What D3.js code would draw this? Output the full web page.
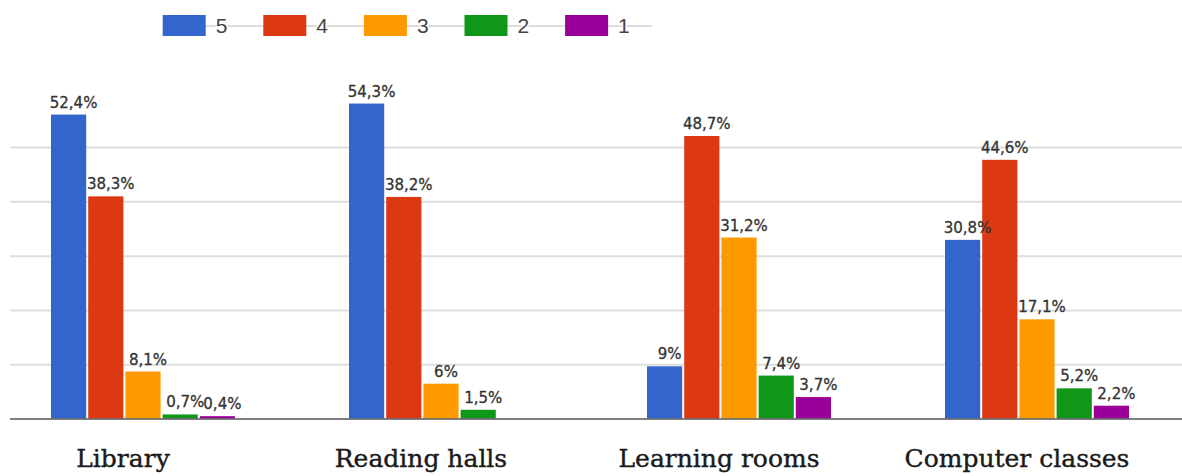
<!DOCTYPE html>
<html>
<head>
<meta charset="utf-8">
<script src="https://cdn.jsdelivr.net/npm/d3@7"></script>
<style>
  html, body { margin: 0; padding: 0; background: #fff; }
  svg { display: block; }
</style>
</head>
<body>
<svg id="chart" width="1182" height="476"></svg>
<script>
// ---- data ----
const categories = ["Library", "Reading halls", "Learning rooms", "Computer classes"];
const seriesNames = ["5", "4", "3", "2", "1"];
const series5 = [52.4, 54.3, 9, 30.8];
const series4 = [38.3, 38.2, 48.7, 44.6];
const series3 = [8.1, 6, 31.2, 17.1];
const series2 = [0.7, 1.5, 7.4, 5.2];
const series1 = [0.4, null, 3.7, 2.2];
const valueLabels5 = ["52,4%", "54,3%", "9%", "30,8%"];
const valueLabels4 = ["38,3%", "38,2%", "48,7%", "44,6%"];
const valueLabels3 = ["8,1%", "6%", "31,2%", "17,1%"];
const valueLabels2 = ["0,7%", "1,5%", "7,4%", "5,2%"];
const valueLabels1 = ["0,4%", null, "3,7%", "2,2%"];
const colors = ["#3366cc", "#dc3912", "#ff9900", "#109618", "#990099"];

const allSeries = [series5, series4, series3, series2, series1];
const allLabels = [valueLabels5, valueLabels4, valueLabels3, valueLabels2, valueLabels1];

const svg = d3.select("#chart");

// ---- scales ----
const x0 = d3.scaleBand().domain(categories).range([-6, 1186])
  .paddingInner(0.3826).paddingOuter(0.1913);
const x1 = d3.scaleBand().domain(seriesNames).range([0, x0.bandwidth()])
  .paddingInner(0.054).paddingOuter(0);
const y = d3.scaleLinear().domain([0, 60]).range([418.5, 70.5]);
const color = d3.scaleOrdinal().domain(seriesNames).range(colors);

// ---- gridlines ----
const gridTicks = d3.range(1, 6).map(i => i * 9.36);
const grid = svg.append("g").attr("transform", "translate(1182,0)")
  .call(d3.axisLeft(y).tickValues(gridTicks).tickSize(1172).tickFormat(""));
grid.select(".domain").remove();
grid.selectAll(".tick line").attr("stroke", "#dedede").attr("stroke-width", 2);

// ---- bars ----
const rows = [];
categories.forEach((c, ci) => {
  seriesNames.forEach((s, si) => {
    const v = allSeries[si][ci];
    if (v !== null && v !== undefined) {
      rows.push({ cat: c, key: s, value: v, label: allLabels[si][ci] });
    }
  });
});

const g = svg.append("g");
g.selectAll("rect.bar").data(rows).join("rect")
  .attr("class", "bar")
  .attr("x", d => x0(d.cat) + x1(d.key))
  .attr("y", d => y(d.value))
  .attr("width", x1.bandwidth())
  .attr("height", d => y(0) - y(d.value))
  .attr("fill", d => color(d.key));

// baseline
svg.append("line")
  .attr("x1", 10).attr("x2", 1182)
  .attr("y1", y(0) + 0.5).attr("y2", y(0) + 0.5)
  .attr("stroke", "#555").attr("stroke-width", 1.6);

// value labels
g.selectAll("text.val").data(rows).join("text")
  .attr("class", "val")
  .attr("x", d => x0(d.cat) + x1(d.key) + x1.bandwidth() / 2 + 5)
  .attr("y", d => y(d.value) - 7)
  .attr("text-anchor", "middle")
  .attr("font-family", "DejaVu Sans")
  .attr("font-size", 15)
  .attr("fill", "#333")
  .attr("stroke", "#333").attr("stroke-width", 0.3)
  .text(d => d.label);

// category labels
svg.append("g").selectAll("text.cat").data(categories).join("text")
  .attr("class", "cat")
  .attr("x", d => x0(d) + x0.bandwidth() / 2 - 20)
  .attr("y", 467)
  .attr("text-anchor", "middle")
  .attr("font-family", "DejaVu Serif")
  .attr("font-size", 25)
  .attr("fill", "#1a1a1a")
  .attr("stroke", "#1a1a1a").attr("stroke-width", 0.4)
  .text(d => d);

// ---- legend ----
const legendX = d3.scaleLinear().domain([0, 1]).range([162.7, 263.3]);
const leg = svg.append("g");
leg.append("line")
  .attr("x1", legendX(0)).attr("x2", 651.7)
  .attr("y1", 26).attr("y2", 26)
  .attr("stroke", "#dcdcdc").attr("stroke-width", 2);
const items = leg.selectAll("g.item").data(seriesNames).join("g")
  .attr("class", "item")
  .attr("transform", (d, i) => `translate(${legendX(i)},0)`);
items.append("rect")
  .attr("x", 0).attr("y", 15).attr("width", 43).attr("height", 21)
  .attr("fill", d => color(d));
items.append("text")
  .attr("x", 53).attr("y", 33)
  .attr("font-family", "Liberation Sans, Arial, sans-serif")
  .attr("font-size", 21)
  .attr("fill", "#444")
  .attr("stroke", "#fff").attr("stroke-width", 3)
  .attr("paint-order", "stroke")
  .text(d => d);
</script>
</body>
</html>
